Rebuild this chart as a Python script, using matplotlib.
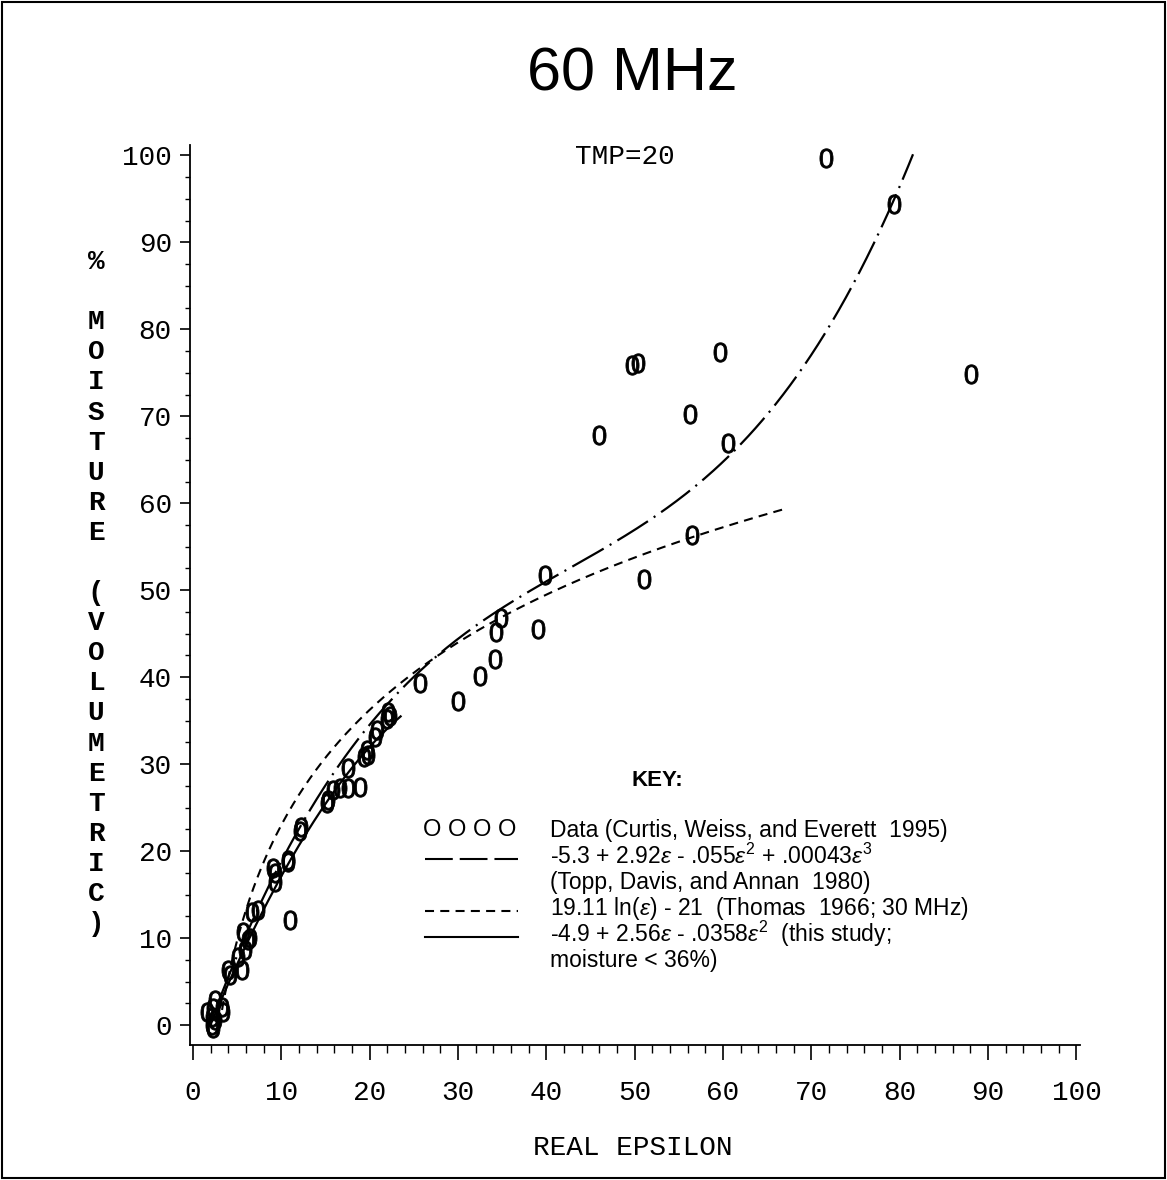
import numpy as np
import matplotlib
matplotlib.use("Agg")
import matplotlib.pyplot as plt
from matplotlib.lines import Line2D
from matplotlib.patches import Rectangle
from matplotlib.ticker import MultipleLocator

plt.rcParams['lines.scale_dashes'] = False
plt.rcParams['mathtext.fontset'] = 'custom'
plt.rcParams['mathtext.rm'] = 'Liberation Sans'
plt.rcParams['mathtext.it'] = 'Liberation Sans:italic'

# Data (real epsilon, % moisture)
eps_data = [71.6, 79.3, 49.7, 50.4, 59.7, 88.1, 45.9, 56.3, 60.6, 56.5,
            51.0, 39.8, 39.0, 34.9, 34.3, 34.2, 32.5, 30.0, 25.7,
            22.1, 22.3, 22.0, 20.8, 20.6, 19.7, 19.8, 19.3, 17.6, 18.9,
            17.6, 16.6, 15.9, 15.3, 15.2, 12.2, 12.1, 10.8, 10.7, 9.1, 11.0,
            9.3, 9.3, 6.7, 7.4, 5.7, 6.5, 6.2, 5.9, 5.1, 5.5, 4.0, 4.2,
            2.5, 3.3, 1.6, 2.2, 2.5, 2.2, 3.4, 2.3, 2.3]
moist_data = [99.7, 94.4, 75.9, 76.1, 77.4, 74.9, 67.9, 70.3, 66.9, 56.3,
              51.3, 51.8, 45.5, 46.8, 45.2, 42.1, 40.1, 37.3, 39.3,
              36.0, 35.5, 35.2, 33.9, 33.1, 31.6, 31.0, 30.8, 29.5, 27.4,
              27.2, 27.2, 27.0, 25.9, 25.5, 22.8, 22.3, 19.0, 18.7, 18.0, 12.1,
              17.5, 16.4, 13.0, 13.2, 10.7, 10.0, 9.8, 8.6, 7.8, 6.3, 6.3, 5.7,
              2.9, 2.1, 1.5, 0.9, 0.6, 0.0, 1.5, -0.3, 2.0]

# fitted curves
topp_range = (3, 81.5)
thomas_range = (3, 67)
study_range = (2, 23.5)

def topp(e):
    return -5.3 + 2.92 * e - 0.055 * e**2 + 0.00043 * e**3

def thomas(e):
    return 19.11 * np.log(e) - 21

def study(e):
    return -4.9 + 2.56 * e - 0.0358 * e**2

W, H = 1167, 1180
fig = plt.figure(figsize=(W / 100, H / 100), dpi=100)

def px(x, y):
    return x / W, 1 - y / H

ax = fig.add_axes([190 / W, 1 - 1045 / H, 890 / W, 900 / H])
ax.set_xlim(-0.34, 100.4)
ax.set_ylim(-2.3, 101.2)

e = np.linspace(*topp_range, 300)
ax.plot(e, topp(e), color='black', lw=1.6, linestyle=(0, (26, 5, 1.5, 5)))
e = np.linspace(*thomas_range, 300)
ax.plot(e, thomas(e), color='black', lw=1.5, linestyle=(0, (6.5, 4.5)))
e = np.linspace(*study_range, 200)
ax.plot(e, study(e), color='black', lw=1.6, linestyle='-')

ax.plot(eps_data, moist_data, linestyle='none', marker='$0$', ms=14,
        color='black', markeredgewidth=0.6)

for s in ['top', 'right']:
    ax.spines[s].set_visible(False)
for s in ['left', 'bottom']:
    ax.spines[s].set_linewidth(1.3)

ax.xaxis.set_major_locator(MultipleLocator(10))
ax.xaxis.set_minor_locator(MultipleLocator(2))
ax.yaxis.set_major_locator(MultipleLocator(10))
ax.yaxis.set_minor_locator(MultipleLocator(2.5))
ax.tick_params(axis='x', which='major', length=11, width=1.2, pad=14)
ax.tick_params(axis='x', which='minor', length=6, width=1.0)
ax.tick_params(axis='y', which='major', length=7, width=1.2, pad=6)
ax.tick_params(axis='y', which='minor', length=3.5, width=1.0)
for lab in ax.get_xticklabels() + ax.get_yticklabels():
    lab.set_fontfamily('Liberation Mono')
    lab.set_fontsize(20)

# title and labels
fig.text(*px(632, 75), '60 MHz', ha='center', va='center',
         fontsize=44, family='Liberation Sans')
fig.text(*px(625, 157), 'TMP=20', ha='center', va='center', fontsize=20,
         family='Liberation Mono')
fig.text(*px(633, 1148), 'REAL EPSILON', ha='center', va='center',
         fontsize=20, family='Liberation Mono')

ylab = '% MOISTURE (VOLUMETRIC)'
for i, ch in enumerate(ylab):
    fig.text(*px(96, 262 + i * 30.1), ch, ha='center', va='center',
             fontsize=20, family='Liberation Mono', fontweight='bold')

# key
fig.text(*px(657, 781), 'KEY:', ha='center', va='center', fontsize=16,
         family='Liberation Sans', fontweight='bold')
key_text = [
    'Data (Curtis, Weiss, and Everett  1995)',
    r'-5.3 + 2.92$\epsilon$ - .055$\epsilon^2$ + .00043$\epsilon^3$',
    '(Topp, Davis, and Annan  1980)',
    r'19.11 ln($\epsilon$) - 21  (Thomas  1966; 30 MHz)',
    r'-4.9 + 2.56$\epsilon$ - .0358$\epsilon^2$  (this study;',
    'moisture < 36%)',
]
for i, t in enumerate(key_text):
    fig.text(*px(550, 830 + i * 26), t, ha='left', va='center',
             fontsize=16.5, family='Liberation Sans')
fig.text(*px(470, 830), 'O O O O', ha='center', va='center', fontsize=17,
         family='Liberation Sans')
key_lines = [(859, (0, (20, 5))), (911, (0, (6.5, 4.5))), (937, '-')]
for yy, ls in key_lines:
    x0, y0 = px(425, yy)
    x1, _ = px(518, yy)
    fig.add_artist(Line2D([x0, x1], [y0, y0], color='black', lw=1.5,
                          linestyle=ls, transform=fig.transFigure))

fig.add_artist(Rectangle((2 / W, 2 / H), 1 - 4 / W, 1 - 4 / H, fill=False,
                         edgecolor='black', lw=1.5,
                         transform=fig.transFigure))

fig.savefig('out.png', dpi=100)
